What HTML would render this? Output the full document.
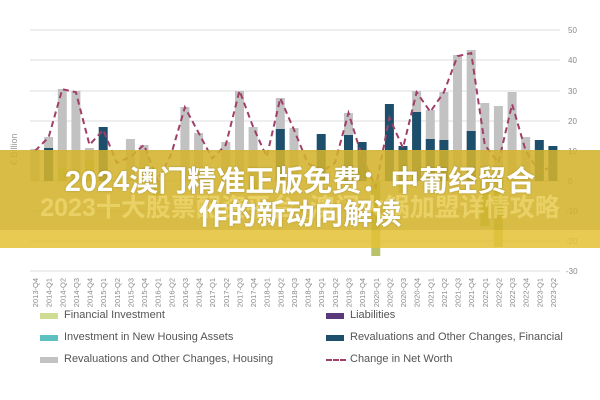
<!DOCTYPE html>
<html><head><meta charset="utf-8"><style>
body{margin:0;width:600px;height:400px;background:#fff;overflow:hidden;position:relative;font-family:"Liberation Sans","Noto Sans CJK SC",sans-serif}
.leg{position:absolute;font-size:11px;color:#555;font-family:"Liberation Sans",sans-serif}
.sw{position:absolute;width:18px;height:6px}
.ban{position:absolute;left:0;top:150px;width:600px;height:98px;background:rgba(228,192,52,0.86)}
.ban2{position:absolute;left:0;top:150px;width:600px;height:80px;background:rgba(110,100,0,0.13)}
.ghost{position:absolute;left:0;top:188px;width:600px;text-align:center;font-size:25px;font-weight:bold;color:rgba(255,235,140,0.45);white-space:nowrap}
.title{position:absolute;left:0;top:166px;width:600px;text-align:center;font-size:29px;font-weight:bold;color:#fff;line-height:33px;text-shadow:0 0 2px rgba(0,0,0,0.2)}
</style></head><body>
<svg width="600" height="400" style="position:absolute;left:0;top:0" font-family="Liberation Sans, sans-serif">
<g stroke="#e4e4e4" stroke-width="1.2">
<line x1="30" x2="560" y1="30" y2="30"/><line x1="30" x2="560" y1="60" y2="60"/><line x1="30" x2="560" y1="91" y2="91"/><line x1="30" x2="560" y1="121" y2="121"/><line x1="30" x2="560" y1="151" y2="151"/><line x1="30" x2="560" y1="181" y2="181"/><line x1="30" x2="560" y1="211" y2="211"/><line x1="30" x2="560" y1="241" y2="241"/><line x1="30" x2="560" y1="271" y2="271"/>
</g>
<g fill="#888" font-size="8">
<text x="568" y="33">50</text><text x="568" y="63">40</text><text x="568" y="94">30</text><text x="568" y="124">20</text><text x="568" y="154">10</text><text x="568" y="184">0</text><text x="566" y="214">-10</text><text x="566" y="244">-20</text><text x="566" y="274">-30</text>
</g>
<text transform="translate(17,165) rotate(-90)" font-size="9" fill="#999">€ Billion</text>
<g fill="#c2c2c2">
<rect x="30.5" y="149" width="9" height="32"/><rect x="44.1" y="137" width="9" height="44"/><rect x="57.8" y="89" width="9" height="92"/><rect x="71.4" y="91" width="9" height="90"/><rect x="85" y="148" width="9" height="33"/><rect x="125.9" y="139" width="9" height="42"/><rect x="139.5" y="145" width="9" height="36"/><rect x="180.4" y="107" width="9" height="74"/><rect x="194.1" y="133" width="9" height="48"/><rect x="221.3" y="142" width="9" height="39"/><rect x="235" y="91" width="9" height="90"/><rect x="248.6" y="127" width="9" height="54"/><rect x="275.8" y="98" width="9" height="83"/><rect x="289.5" y="128" width="9" height="53"/><rect x="344" y="113" width="9" height="68"/><rect x="412.1" y="91" width="9" height="90"/><rect x="425.8" y="110" width="9" height="71"/><rect x="439.4" y="92" width="9" height="89"/><rect x="453" y="55" width="9" height="126"/><rect x="466.7" y="50" width="9" height="131"/><rect x="480.3" y="103" width="9" height="78"/><rect x="493.9" y="106" width="9" height="75"/><rect x="507.6" y="92" width="9" height="89"/><rect x="521.2" y="137" width="9" height="44"/>
</g>
<g fill="#1d4e6b">
<rect x="44.1" y="148" width="9" height="33"/><rect x="98.7" y="127" width="9" height="54"/><rect x="275.8" y="129" width="9" height="52"/><rect x="316.7" y="134" width="9" height="47"/><rect x="344" y="135" width="9" height="46"/><rect x="357.6" y="142" width="9" height="39"/><rect x="384.9" y="104" width="9" height="77"/><rect x="398.5" y="146" width="9" height="35"/><rect x="412.1" y="112" width="9" height="69"/><rect x="425.8" y="139" width="9" height="42"/><rect x="439.4" y="140" width="9" height="41"/><rect x="466.7" y="131" width="9" height="50"/><rect x="534.8" y="140" width="9" height="41"/><rect x="548.4" y="146" width="9" height="35"/>
</g>
<g fill="#b9c46a">
<rect x="57.8" y="168" width="9" height="13"/><rect x="71.4" y="170" width="9" height="11"/><rect x="85" y="160" width="9" height="21"/><rect x="153.2" y="181" width="9" height="15"/><rect x="371.3" y="181" width="9" height="75"/><rect x="480.3" y="181" width="9" height="45"/><rect x="493.9" y="181" width="9" height="66"/><rect x="248.6" y="181" width="9" height="10"/><rect x="398.5" y="181" width="9" height="12"/>
</g>
<polyline fill="none" stroke="#a0406a" stroke-width="2" stroke-dasharray="6,4" points="35,150.9 48.6,137.4 62.3,89.2 75.9,92.2 89.5,144.9 103.2,129.8 116.8,162.9 130.4,156.9 144,144.9 157.7,181 171.3,153.9 184.9,107.3 198.6,132.8 212.2,158.4 225.8,144.9 239.5,90.7 253.1,126.8 266.7,156.9 280.3,98.2 294,129.8 307.6,162.9 321.2,172 334.9,162.9 348.5,113 362.1,156.9 375.8,187 389.4,117.8 403,147.9 416.6,92.2 430.3,111.8 443.9,92.2 457.5,56.1 471.2,53.1 484.8,144.9 498.4,162.9 512.1,104.2 525.7,150.9 539.3,172 552.9,166"/>
<g fill="#888" font-size="7.5" text-anchor="end">
<text transform="translate(38,278) rotate(-90)">2013-Q4</text><text transform="translate(51.6,278) rotate(-90)">2014-Q1</text><text transform="translate(65.3,278) rotate(-90)">2014-Q2</text><text transform="translate(78.9,278) rotate(-90)">2014-Q3</text><text transform="translate(92.5,278) rotate(-90)">2014-Q4</text><text transform="translate(106.2,278) rotate(-90)">2015-Q1</text><text transform="translate(119.8,278) rotate(-90)">2015-Q2</text><text transform="translate(133.4,278) rotate(-90)">2015-Q3</text><text transform="translate(147,278) rotate(-90)">2015-Q4</text><text transform="translate(160.7,278) rotate(-90)">2016-Q1</text><text transform="translate(174.3,278) rotate(-90)">2016-Q2</text><text transform="translate(187.9,278) rotate(-90)">2016-Q3</text><text transform="translate(201.6,278) rotate(-90)">2016-Q4</text><text transform="translate(215.2,278) rotate(-90)">2017-Q1</text><text transform="translate(228.8,278) rotate(-90)">2017-Q2</text><text transform="translate(242.5,278) rotate(-90)">2017-Q3</text><text transform="translate(256.1,278) rotate(-90)">2017-Q4</text><text transform="translate(269.7,278) rotate(-90)">2018-Q1</text><text transform="translate(283.3,278) rotate(-90)">2018-Q2</text><text transform="translate(297,278) rotate(-90)">2018-Q3</text><text transform="translate(310.6,278) rotate(-90)">2018-Q4</text><text transform="translate(324.2,278) rotate(-90)">2019-Q1</text><text transform="translate(337.9,278) rotate(-90)">2019-Q2</text><text transform="translate(351.5,278) rotate(-90)">2019-Q3</text><text transform="translate(365.1,278) rotate(-90)">2019-Q4</text><text transform="translate(378.8,278) rotate(-90)">2020-Q1</text><text transform="translate(392.4,278) rotate(-90)">2020-Q2</text><text transform="translate(406,278) rotate(-90)">2020-Q3</text><text transform="translate(419.6,278) rotate(-90)">2020-Q4</text><text transform="translate(433.3,278) rotate(-90)">2021-Q1</text><text transform="translate(446.9,278) rotate(-90)">2021-Q2</text><text transform="translate(460.5,278) rotate(-90)">2021-Q3</text><text transform="translate(474.2,278) rotate(-90)">2021-Q4</text><text transform="translate(487.8,278) rotate(-90)">2022-Q1</text><text transform="translate(501.4,278) rotate(-90)">2022-Q2</text><text transform="translate(515.1,278) rotate(-90)">2022-Q3</text><text transform="translate(528.7,278) rotate(-90)">2022-Q4</text><text transform="translate(542.3,278) rotate(-90)">2023-Q1</text><text transform="translate(555.9,278) rotate(-90)">2023-Q2</text>
</g>
</svg>
<div class="ban"></div><div class="ban2"></div>
<div class="ghost">2023十大股票配资平台_澳门火锅加盟详情攻略</div>
<div class="title">2024澳门精准正版免费：中葡经贸合<br>作的新动向解读</div>
<div class="sw" style="left:40px;top:313px;background:#cfdc94"></div><div class="leg" style="left:64px;top:309px">Financial Investment</div>
<div class="sw" style="left:40px;top:335px;background:#5cc0c0"></div><div class="leg" style="left:64px;top:331px">Investment in New Housing Assets</div>
<div class="sw" style="left:40px;top:357px;background:#c2c2c2"></div><div class="leg" style="left:64px;top:353px">Revaluations and Other Changes, Housing</div>
<div class="sw" style="left:326px;top:313px;background:#5a3a7a"></div><div class="leg" style="left:350px;top:309px">Liabilities</div>
<div class="sw" style="left:326px;top:335px;background:#1d4e6b"></div><div class="leg" style="left:350px;top:331px">Revaluations and Other Changes, Financial</div>
<div style="position:absolute;left:326px;top:359px;width:20px;border-top:2px dashed #a0406a"></div><div class="leg" style="left:350px;top:353px">Change in Net Worth</div>
</body></html>
